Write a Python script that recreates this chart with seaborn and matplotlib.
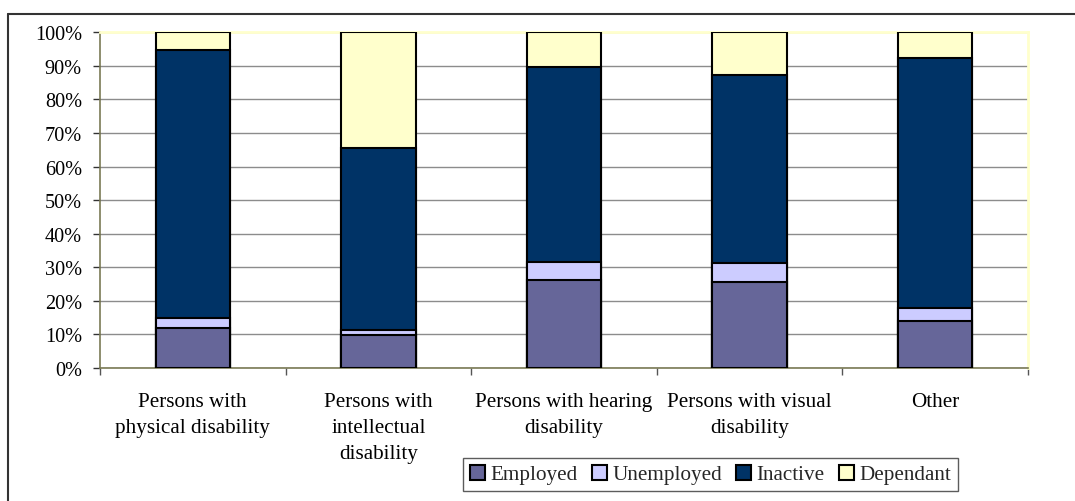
import matplotlib
matplotlib.use("Agg")
import matplotlib.pyplot as plt
from matplotlib.lines import Line2D
from matplotlib.patches import Patch
from matplotlib.ticker import FixedLocator, PercentFormatter
import numpy as np
import pandas as pd
import seaborn as sns

# Share of each group by activity status (percent of persons)
categories = [
    "Persons with\nphysical disability",
    "Persons with\nintellectual\ndisability",
    "Persons with hearing\ndisability",
    "Persons with visual\ndisability",
    "Other",
]
employed = [11.9, 9.9, 26.3, 25.5, 14.1]
unemployed = [2.9, 1.5, 5.2, 5.9, 3.8]
inactive = [79.9, 54.0, 58.1, 55.9, 74.5]
dependant = [5.3, 34.6, 10.4, 12.7, 7.6]

series_names = ["Employed", "Unemployed", "Inactive", "Dependant"]
series_colors = ["#666699", "#CCCCFF", "#003366", "#FFFFCC"]
y_ticks = [0, 10, 20, 30, 40, 50, 60, 70, 80, 90, 100]

sns.set_theme(style="white")
plt.rcParams["font.family"] = ["Liberation Serif", "DejaVu Serif"]
plt.rcParams["font.size"] = 15

W, H = 1075, 502
fig = plt.figure(figsize=(W / 100, H / 100), dpi=100)
ax = fig.add_axes([100 / W, (H - 369) / H, 928 / W, (369 - 33.3) / H])

df = pd.DataFrame({
    "category": categories,
    "Employed": employed,
    "Unemployed": unemployed,
    "Inactive": inactive,
    "Dependant": dependant,
})
# cumulative tops, drawn from the tallest layer down so each segment shows
cum = df[series_names].cumsum(axis=1)
for name, color in reversed(list(zip(series_names, series_colors))):
    sns.barplot(
        x=df["category"], y=cum[name], color=color, width=0.4,
        edgecolor="black", linewidth=1.5, saturation=1, ax=ax, zorder=3,
        order=categories,
    )

ax.set_xlim(-0.5, len(categories) - 0.5)
ax.set_ylim(0, 100)
ax.set_xlabel("")
ax.set_ylabel("")

# y axis
ax.yaxis.set_major_locator(FixedLocator(y_ticks))
ax.yaxis.set_major_formatter(PercentFormatter(decimals=0))
ax.set_axisbelow(True)
ax.yaxis.grid(True, color="#8c8c8c", linewidth=1.0)
ax.xaxis.grid(False)
ax.tick_params(axis="y", which="major", left=True, length=5, width=1,
               color="#333333", pad=8, labelsize=14.6, labelcolor="black")

# x axis: labels centred, tick marks between categories
ax.set_xticks(range(len(categories)))
ax.set_xticklabels(categories, fontsize=15.2, color="black", linespacing=1.5)
ax.set_xticks(np.arange(-0.5, len(categories), 1.0), minor=True)
ax.tick_params(axis="x", which="major", bottom=False, length=0, pad=17)
ax.tick_params(axis="x", which="minor", bottom=True, length=5, width=1,
               color="#555555")

for side in ("left", "bottom"):
    ax.spines[side].set_color("#7a7a55")
    ax.spines[side].set_linewidth(1.2)
for side in ("top", "right"):
    ax.spines[side].set_color("#FFFFCC")
    ax.spines[side].set_linewidth(2.0)
for s in ax.spines.values():
    s.set_visible(True)

# legend
handles = [Patch(facecolor=c, edgecolor="black", linewidth=1.5, label=n)
           for n, c in zip(series_names, series_colors)]
leg = fig.legend(
    handles=handles, loc="center", ncol=4,
    bbox_to_anchor=(710.5 / W, (H - 475.5) / H),
    frameon=True, fancybox=False, shadow=False, fontsize=15.2,
    handlelength=0.72, handleheight=0.72, handletextpad=0.25,
    columnspacing=0.68, borderpad=0.3, borderaxespad=0,
)
leg.get_frame().set_edgecolor("#333333")
leg.get_frame().set_linewidth(1.0)

# outer chart frame
fig.add_artist(Line2D([8 / W, 1.0], [(H - 15) / H] * 2, color="#333333",
                      linewidth=1.5, transform=fig.transFigure))
fig.add_artist(Line2D([8 / W] * 2, [0.0, (H - 15) / H], color="#333333",
                      linewidth=1.5, transform=fig.transFigure))

fig.savefig("out.png", dpi=100)
